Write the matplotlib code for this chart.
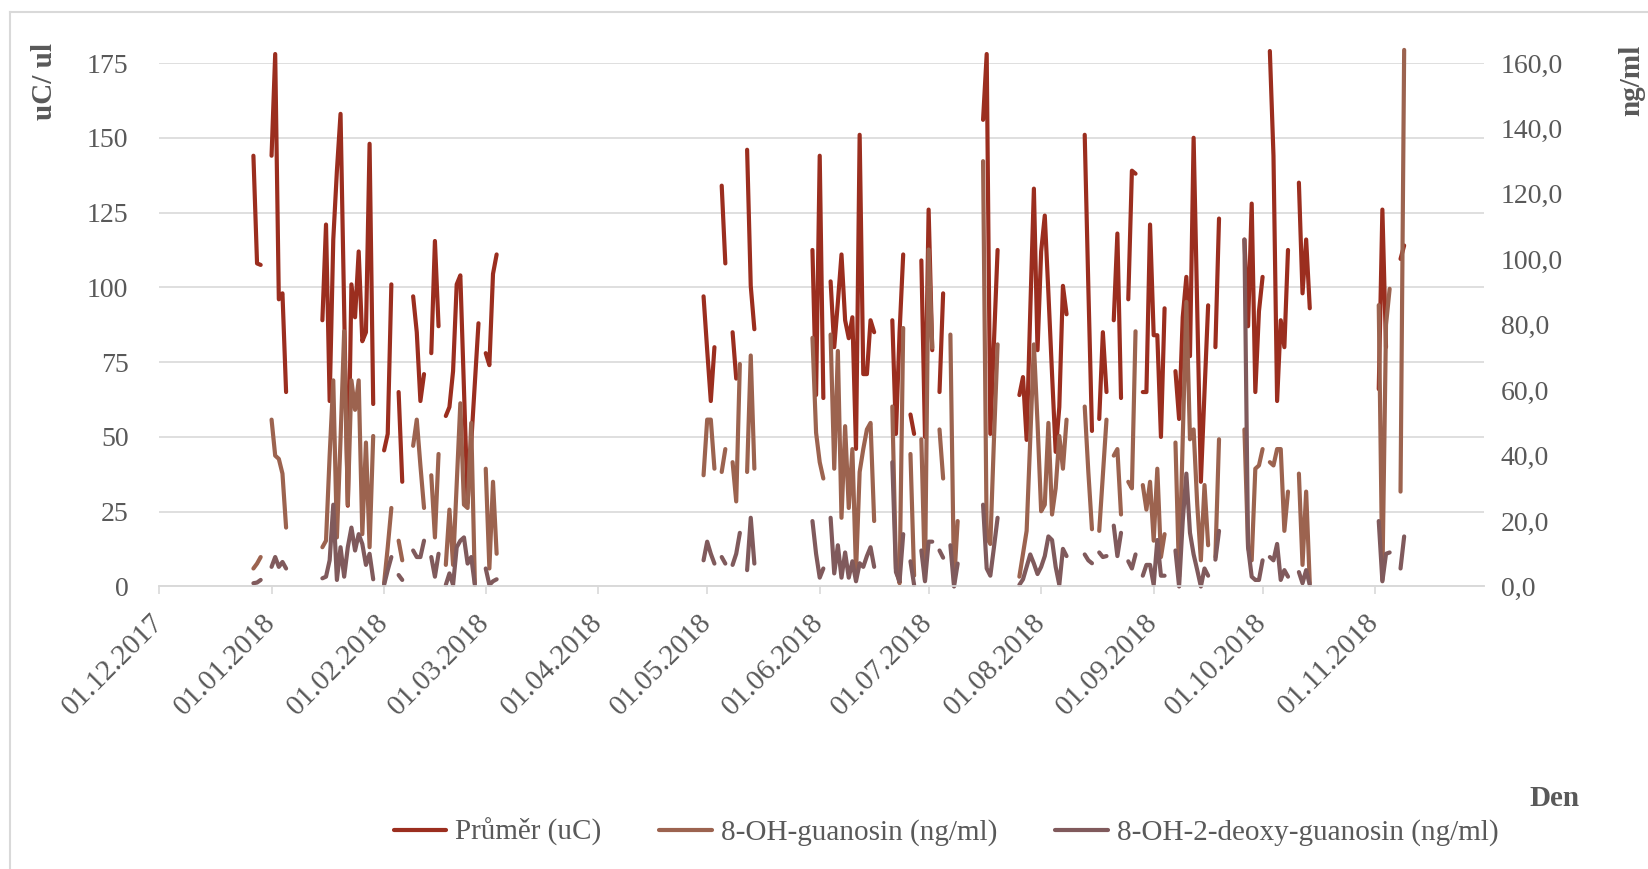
import numpy as np
import pandas as pd
import matplotlib
matplotlib.use('Agg')
import matplotlib.pyplot as plt
import matplotlib.dates as mdates
from matplotlib.lines import Line2D
from matplotlib.ticker import MultipleLocator, FuncFormatter

plt.rcParams['font.family'] = ['Liberation Serif', 'DejaVu Serif']

# each segment: (first day, daily values); days without a measurement stay blank
prumer = [
    ('2017-12-27', [144, 108, 107.5]),
    ('2018-01-01', [144, 178, 96, 98, 65]),
    ('2018-01-15', [89, 121, 62, 116, 139, 158, 92, 27, 101, 90, 112, 82, 85, 148, 61]),
    ('2018-02-01', [45.5, 51, 101]),
    ('2018-02-05', [65, 35]),
    ('2018-02-09', [97, 85, 62, 71]),
    ('2018-02-14', [78, 115.5, 87]),
    ('2018-02-18', [57, 60, 72, 101, 104, 66, 28, 48, 68, 88]),
    ('2018-03-01', [78, 74, 104.5, 111]),
    ('2018-04-30', [97, 79, 62, 80]),
    ('2018-05-05', [134, 108]),
    ('2018-05-08', [85, 69.5]),
    ('2018-05-12', [146, 100.5, 86]),
    ('2018-05-30', [112.5, 64, 144, 63]),
    ('2018-06-04', [102, 80, 95, 111, 89, 83, 90, 46, 151, 71, 71, 89, 85]),
    ('2018-06-21', [89, 51, 85, 111]),
    ('2018-06-26', [57.5, 51]),
    ('2018-06-29', [109, 50, 126, 79]),
    ('2018-07-04', [65, 98]),
    ('2018-07-16', [156, 178, 51, 82, 112.5]),
    ('2018-07-26', [64, 70, 49, 92, 133, 79, 112, 124, 98, 71, 45, 60, 100.5, 91]),
    ('2018-08-13', [151, 100, 52]),
    ('2018-08-17', [56, 85, 65]),
    ('2018-08-21', [89, 118, 63]),
    ('2018-08-25', [96, 139, 138]),
    ('2018-08-29', [65, 65, 121, 84, 84, 50, 93]),
    ('2018-09-07', [72, 56, 90, 103.5, 77, 150, 92, 35, 65, 94]),
    ('2018-09-18', [80, 123]),
    ('2018-09-26', [116, 87, 128, 65, 92, 103.5]),
    ('2018-10-03', [179, 144, 62, 89, 80, 112.5]),
    ('2018-10-11', [135, 98, 116, 93]),
    ('2018-11-02', [66, 126, 80]),
    ('2018-11-08', [109.5, 114]),
]

guanosin = [
    ('2017-12-27', [5.5, 7, 9]),
    ('2018-01-01', [51, 40, 39, 34.5, 18]),
    ('2018-01-15', [12, 14, 40, 63, 15, 45, 78, 25, 63, 54, 63, 16, 44, 12, 46]),
    ('2018-02-01', [1, 12, 24]),
    ('2018-02-05', [14, 8]),
    ('2018-02-09', [43, 51, 37, 24]),
    ('2018-02-14', [34, 15, 40.5]),
    ('2018-02-18', [6.6, 23.5, 6.6, 31, 56, 25, 24, 50, 1]),
    ('2018-03-01', [36, 5.5, 32, 10]),
    ('2018-04-30', [34, 51, 51, 36]),
    ('2018-05-05', [35, 42]),
    ('2018-05-08', [38, 26, 68]),
    ('2018-05-12', [35, 70.6, 36]),
    ('2018-05-30', [76, 47, 38, 33]),
    ('2018-06-04', [77, 36, 72, 21, 49, 24, 42, 4.4, 35, 42, 48, 50, 20]),
    ('2018-06-21', [55, 5.5, 1, 79]),
    ('2018-06-26', [40.5, 3.3]),
    ('2018-06-29', [45, 2, 103, 73]),
    ('2018-07-04', [48, 33]),
    ('2018-07-07', [77, 1, 20]),
    ('2018-07-16', [130, 15, 13, 45, 74]),
    ('2018-07-26', [3, 10, 17, 45, 74, 50, 23, 25, 50, 22, 30, 46, 36, 51]),
    ('2018-08-13', [55, 35, 17.5]),
    ('2018-08-17', [17, 34, 51]),
    ('2018-08-21', [40, 42, 22]),
    ('2018-08-25', [32, 30, 78]),
    ('2018-08-29', [31, 23.5, 32, 14, 36, 9, 16]),
    ('2018-09-07', [44, 3, 45, 87, 45, 48, 25, 8, 31, 12.6]),
    ('2018-09-18', [9, 45]),
    ('2018-09-26', [48, 12, 8, 36, 37, 42]),
    ('2018-10-03', [38, 37, 42, 42, 17, 29]),
    ('2018-10-11', [34.5, 6.6, 29, 1]),
    ('2018-11-02', [86, 2, 80, 91]),
    ('2018-11-08', [29, 164]),
]

deoxy = [
    ('2017-12-27', [1, 1.2, 2]),
    ('2018-01-01', [6, 9, 6, 7.5, 5.5]),
    ('2018-01-15', [2.5, 3, 8, 25, 2, 12, 3, 12, 18, 11, 16, 13, 6.6, 10, 2.2]),
    ('2018-02-01', [0.5, 5, 9]),
    ('2018-02-05', [3.5, 2]),
    ('2018-02-09', [11, 9, 9, 14]),
    ('2018-02-14', [9, 3, 10]),
    ('2018-02-18', [0.5, 4, 0.5, 12, 14, 15, 7, 9, 0.5]),
    ('2018-03-01', [5.5, 0.5, 1.6, 2.2]),
    ('2018-04-30', [8, 13.7, 10, 7]),
    ('2018-05-05', [9, 7]),
    ('2018-05-08', [6.6, 10, 16.4]),
    ('2018-05-12', [5, 21, 7]),
    ('2018-05-30', [20, 10, 2.7, 5.5]),
    ('2018-06-04', [21, 4, 12.6, 2.7, 10.4, 2.7, 7.7, 1.6, 7.1, 6, 9.3, 12, 6]),
    ('2018-06-21', [38, 4.4, 1.6, 16]),
    ('2018-06-26', [7.7, 0.5]),
    ('2018-06-29', [11, 1.6, 13.7, 13.7]),
    ('2018-07-04', [11, 8.8]),
    ('2018-07-07', [12.6, 0, 7]),
    ('2018-07-16', [25, 5.5, 3.3, 12, 21]),
    ('2018-07-26', [0.5, 2.2, 6, 9.8, 7, 3.8, 6, 9.3, 15.3, 14.2, 6, 0.5, 11.5, 9.3]),
    ('2018-08-13', [9.8, 8, 7.1]),
    ('2018-08-17', [10.4, 9, 9.3]),
    ('2018-08-21', [18.6, 9.3, 16.4]),
    ('2018-08-25', [7.7, 5.5, 9.8]),
    ('2018-08-29', [3.3, 6.6, 6.6, 0.5, 14.2, 3.3, 3.3]),
    ('2018-09-07', [11, 0, 20, 34.5, 16.4, 9.8, 5, 0, 5.5, 3.3]),
    ('2018-09-18', [8.2, 17]),
    ('2018-09-26', [106, 12, 3, 2, 2, 8]),
    ('2018-10-03', [9, 8, 13, 2, 5, 3]),
    ('2018-10-11', [4.4, 1, 5, 0.5]),
    ('2018-11-02', [20, 1.6, 10, 10.4]),
    ('2018-11-08', [5.5, 15.3]),
]

labels = ['Průměr (uC)', '8-OH-guanosin (ng/ml)', '8-OH-2-deoxy-guanosin (ng/ml)']
colors = ['#9b2e1f', '#9c634f', '#805a5c']
all_days = pd.date_range('2017-12-01', '2018-12-01', freq='D')
month_ticks = pd.date_range('2017-12-01', '2018-11-01', freq='MS')

TXT = '#595959'
GRID = '#d9d9d9'


def to_series(segments):
    parts = []
    for start, vals in segments:
        idx = pd.date_range(start, periods=len(vals), freq='D')
        parts.append(pd.Series(vals, index=idx, dtype=float))
    return pd.concat(parts).reindex(all_days)


fig = plt.figure(figsize=(16.48, 8.69), dpi=100)
ax = fig.add_axes([0.0965, 0.3251, 0.804, 0.6024])
ax2 = ax.twinx()

s1 = to_series(prumer)
s2 = to_series(guanosin)
s3 = to_series(deoxy)
style = dict(lw=3.0, solid_capstyle='round', solid_joinstyle='round', clip_on=False)
l1, = ax.plot(s1.index, s1.values, color=colors[0], **style)
l2, = ax2.plot(s2.index, s2.values, color=colors[1], **style)
l3, = ax2.plot(s3.index, s3.values, color=colors[2], **style)

ax.set_xlim(all_days[0], all_days[-1])
ax.set_ylim(0, 175)
ax2.set_ylim(0, 160)
ax.yaxis.set_major_locator(MultipleLocator(25))
ax2.yaxis.set_major_locator(MultipleLocator(20))
ax2.yaxis.set_major_formatter(FuncFormatter(lambda v, p: f'{v:.1f}'.replace('.', ',')))
ax.set_xticks(month_ticks)
ax.xaxis.set_major_formatter(mdates.DateFormatter('%d.%m.%Y'))

ax.grid(axis='y', color=GRID, lw=1.2)
ax.set_axisbelow(True)
for a in (ax, ax2):
    for side in ('top', 'left', 'right'):
        a.spines[side].set_visible(False)
    a.spines['bottom'].set_color(GRID)
    a.spines['bottom'].set_linewidth(1.2)

ax.tick_params(axis='y', length=0, pad=22, labelsize=20, labelcolor=TXT)
ax2.tick_params(axis='y', length=0, pad=12, labelsize=20, labelcolor=TXT)
ax.tick_params(axis='x', length=6, width=1.2, color=GRID, pad=17, labelsize=21, labelcolor=TXT)
for lab in ax.get_xticklabels():
    lab.set_rotation(45)
    lab.set_ha('right')
    lab.set_va('center')
    lab.set_rotation_mode('anchor')

fig.text(44 / 1648, 1 - 81 / 869, 'uC/ ul', rotation=90, ha='center', va='center',
         fontsize=21, fontweight='bold', color=TXT)
fig.text(1632 / 1648, 1 - 80 / 869, 'ng/ml', rotation=90, ha='center', va='center',
         fontsize=21, fontweight='bold', color=TXT)
fig.text(1555 / 1648, 1 - 799 / 869, 'Den', ha='center', va='center',
         fontsize=21, fontweight='bold', color=TXT)

leg = fig.legend([l1, l2, l3], labels, loc='center', bbox_to_anchor=(946 / 1648, 1 - 832 / 869),
                 ncol=3, frameon=False, fontsize=21, handlelength=1.8, handletextpad=0.3,
                 columnspacing=2.0)
for t in leg.get_texts():
    t.set_color(TXT)

# chart area border
fig.add_artist(Line2D([10 / 1648, 10 / 1648], [0, 1 - 12 / 869], color=GRID, lw=1.5))
fig.add_artist(Line2D([10 / 1648, 1], [1 - 12 / 869, 1 - 12 / 869], color=GRID, lw=1.5))

fig.savefig('out.png', dpi=100)
